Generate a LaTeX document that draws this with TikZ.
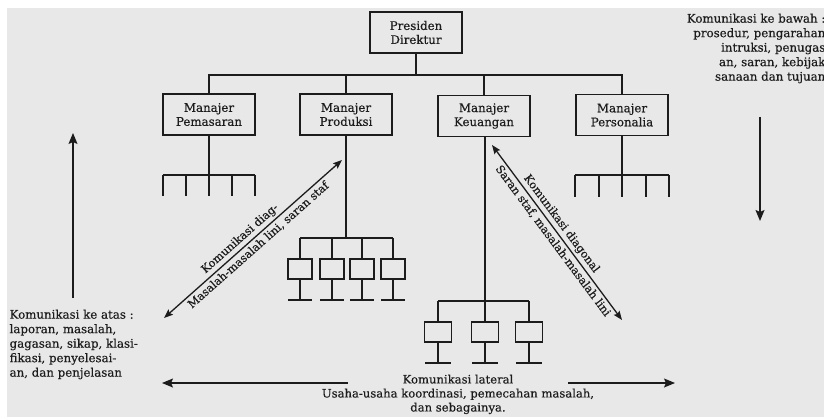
\documentclass[tikz,border=0pt]{standalone}
\usepackage{fontspec}
\setmainfont{DejaVu Serif}[FakeBold=0.4]
\usetikzlibrary{arrows.meta}
\definecolor{paper}{HTML}{E8E8E8}
\definecolor{ink}{HTML}{1C1C1C}
\begin{document}
\begin{tikzpicture}[x=1pt,y=-1pt,
  line width=1.3pt, draw=ink, text=ink,
  mgr/.style={draw, line width=1.4pt, minimum width=92pt, minimum height=41pt,
    inner sep=0pt, align=center, font=\fontsize{11.8}{14}\selectfont},
  unit/.style={draw, line width=1.3pt, minimum height=20pt, inner sep=0pt},
  tip/.style={-{Stealth[length=11pt,width=9pt,inset=2pt]}},
  dtip/.style={{Stealth[length=9pt,width=7pt,inset=1.5pt]}-{Stealth[length=9pt,width=7pt,inset=1.5pt]}},
  lbl/.style={font=\fontsize{11.2}{12}\selectfont, inner sep=2.5pt},
  note/.style={inner sep=0pt, font=\fontsize{11.8}{14.5}\selectfont}]

% paper
\useasboundingbox (0,0) rectangle (824,417);
\fill[white] (0,0) rectangle (824,417);
\fill[paper] (7,8) rectangle (824,417);

% managers
\node[mgr] (pd)  at (416,32.5) {Presiden\\Direktur};
\node[mgr] (pem) at (209,114.5) {Manajer\\Pemasaran};
\node[mgr] (pro) at (346,114.5) {Manajer\\Produksi};
\node[mgr] (keu) at (484,116) {Manajer\\Keuangan};
\node[mgr] (per) at (622,115) {Manajer\\Personalia};

% top bus
\coordinate (bus) at (416,75);
\draw (pd) -- (bus);
\draw (pem.north) -- (pem.north |- bus) -| (per.north);
\draw (pro.north) -- (pro.north |- bus);
\draw (keu.north) -- (keu.north |- bus);

% Pemasaran and Personalia: open sections
\coordinate (pemb) at (209,175);
\draw (pem.south) -- (pemb);
\draw (163,175) -- (255,175);
\foreach \x/\n in {163/a,186/b,209/c,232/d,255/e}
  \draw (\x,175) coordinate (pem\n) -- (\x,196);
\coordinate (perb) at (622,175);
\draw (per.south) -- (perb);
\draw (575,175) -- (669,175);
\foreach \x/\n in {575/a,599/b,622/c,646/d,669/e}
  \draw (\x,175) coordinate (per\n) -- (\x,197);

% Produksi: four units
\coordinate (prob) at (346,238);
\draw (pro.south) -- (prob);
\draw (300,238) -- (393,238);
\foreach \x/\n in {300/a,332/b,362/c,393/d}{
  \node[unit, minimum width=24pt] (pro\n) at (\x,269) {};
  \draw (\x,238) -- (pro\n.north);
  \draw (pro\n.south) -- (\x,300);
  \draw (\x-12,300) -- (\x+12,300);
}

% Keuangan: three units
\coordinate (keub) at (484.8,301);
\draw[line width=1.6pt] (keu.south -| keub) -- (keub);
\draw (438,301) -- (529,301);
\foreach \x/\n in {438/a,484.8/b,529/c}{
  \node[unit, minimum width=27pt] (keu\n) at (\x,332) {};
  \draw[line width=1.5pt] (\x,301) -- (keu\n.north);
  \draw[line width=1.5pt] (keu\n.south) -- (\x,363);
  \draw (\x-13,363) -- (\x+13,363);
}

% upward and downward communication
\coordinate (upA) at (73,298);  \coordinate (upB) at (73,133);
\draw[tip] (upA) -- (upB);
\coordinate (dnA) at (760,117); \coordinate (dnB) at (760,221);
\draw[tip] (dnA) -- (dnB);

% lateral communication
\coordinate (latL) at (348,383); \coordinate (latLe) at (162,383);
\draw[tip] (latL) -- (latLe);
\coordinate (latR) at (568,383); \coordinate (latRe) at (675,383);
\draw[tip] (latR) -- (latRe);

% diagonal communication
\coordinate (dgA) at (164,318); \coordinate (dgB) at (342,160);
\draw[dtip] (dgA) -- (dgB)
  node[lbl, pos=0.46, sloped, above] {Komunikasi diag-}
  node[lbl, pos=0.5, sloped, below] {Masalah-masalah lini, saran staf};
\coordinate (dgC) at (492,145); \coordinate (dgD) at (622,320);
\draw[dtip] (dgC) -- (dgD)
  node[lbl, pos=0.48, sloped, above] {Komunikasi diagonal}
  node[lbl, pos=0.52, sloped, below] {Saran staf, masalah-masalah lini};

% notes
\node[note, anchor=north west, align=left] (upnote) at (9,309)
  {Komunikasi ke atas :\\laporan, masalah,\\gagasan, sikap, klasi-\\fikasi, penyelesai-\\an, dan penjelasan};
\node[note, anchor=north east, align=right] (dnnote) at (826,13)
  {Komunikasi ke bawah :\\prosedur, pengarahan\\intruksi, penugas\\an, saran, kebijak\\sanaan dan tujuan};
\node[note, anchor=north, align=center, font=\fontsize{11.6}{14}\selectfont] (latnote) at (458,374)
  {Komunikasi lateral\\Usaha-usaha koordinasi, pemecahan masalah,\\dan sebagainya.};
\end{tikzpicture}
\end{document}
